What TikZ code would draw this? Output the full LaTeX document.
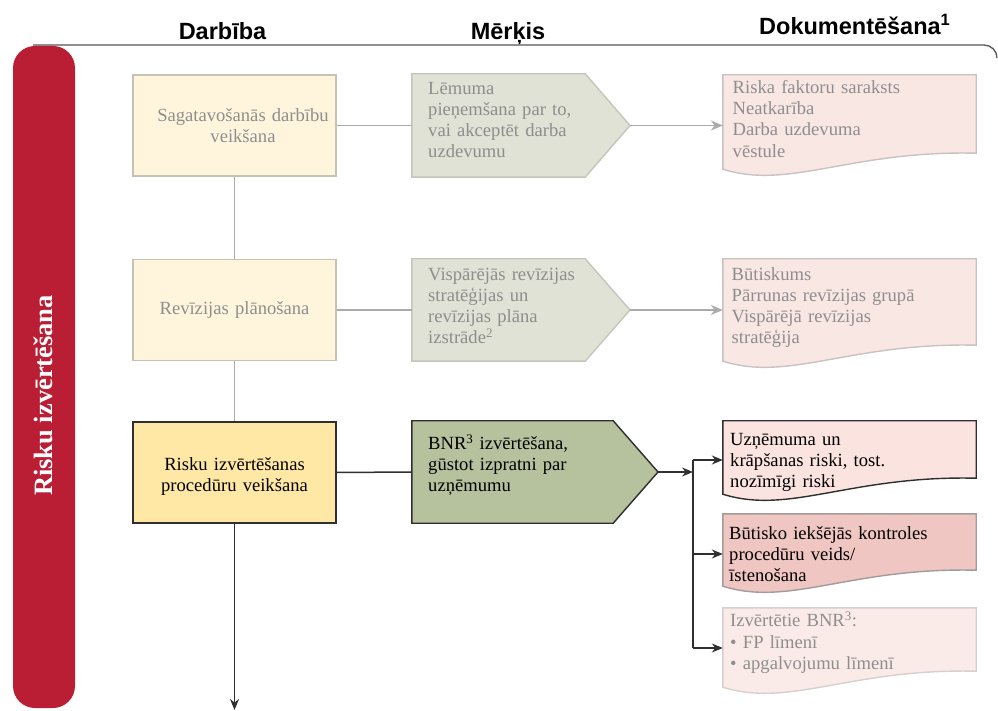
\documentclass[tikz,border=0pt]{standalone}
\usepackage{fontspec}
\setmainfont{Liberation Serif}
\newfontfamily\headsans{Liberation Sans}
\usetikzlibrary{arrows.meta,backgrounds}

\definecolor{barred}{HTML}{BA1E35}
\definecolor{actpale}{HTML}{FEF5DC}
\definecolor{actkey}{HTML}{FFE8A6}
\definecolor{actline}{HTML}{C6C2B6}
\definecolor{goalpale}{HTML}{DFE2D4}
\definecolor{goalline}{HTML}{C3C6BA}
\definecolor{goalkey}{HTML}{B6C19D}
\definecolor{docpale}{HTML}{F9E7E3}
\definecolor{docline}{HTML}{CAC2C0}
\definecolor{dockey}{HTML}{FBE4E0}
\definecolor{docstrong}{HTML}{EFC6C1}
\definecolor{docfaint}{HTML}{FBEBE8}
\definecolor{docfaintline}{HTML}{D6D0CF}
\definecolor{txtgray}{HTML}{8E8E8E}
\definecolor{lingray}{HTML}{ABABAB}
\definecolor{lindark}{HTML}{2F2F2F}
\definecolor{rulegray}{HTML}{555555}

\newcommand{\diagfont}{\fontsize{18.6}{21.2}\selectfont}
\newcommand{\headfont}{\headsans\bfseries\fontsize{23.5}{26}\selectfont}

\begin{document}
\begin{tikzpicture}[x=1pt,y=1pt,
  every node/.style={inner sep=0pt},
  stagebox/.style={draw, line width=1.4pt, minimum width=203pt, minimum height=101pt,
    align=center, text width=195pt, font=\diagfont},
  stagepale/.style={stagebox, fill=actpale, draw=actline, text=txtgray},
  stagekey/.style={stagebox, fill=actkey, draw=lindark, text=black},
  area/.style={rectangle, draw=none, fill=none},
  txt/.style={anchor=north west, align=left, text width=250pt, font=\diagfont,
    execute at begin node=\strut},
  faded/.style={text=txtgray},
  goalpaleshape/.style={fill=goalpale, draw=goalline, line width=1.4pt, line join=miter},
  goalkeyshape/.style={fill=goalkey, draw=lindark, line width=1.4pt, line join=miter},
  docpaleshape/.style={fill=docpale, draw=docline, line width=1.4pt},
  dockeyshape/.style={fill=dockey, draw=lindark, line width=1.4pt},
  docstrongshape/.style={fill=docstrong, draw=docline!80!black, line width=1.4pt},
  docfaintshape/.style={fill=docfaint, draw=docfaintline, line width=1.4pt},
  gline/.style={draw=lingray, line width=1.5pt},
  garrow/.style={gline, -{Stealth[length=12pt,width=10pt]}},
  dline/.style={draw=lindark, line width=1.5pt},
  darrow/.style={dline, -{Stealth[length=11pt,width=9pt]}},
  heading/.style={font=\headfont, text=black},
]
\useasboundingbox (0,0) rectangle (998,710);

% column headings and the rule beneath them
\node[heading, anchor=base] (hact) at (222.5,670.5) {Darbība};
\node[heading, anchor=base] (hgoal) at (508,670.5) {Mērķis};
\node[heading, anchor=base west] (hdoc) at (759,675) {Dokumentēšana\textsuperscript{1}};
\draw[rulegray, line width=1.3pt] (33,665) -- (984,665) arc[start angle=90, end angle=0, radius=13];

% phase bar
\node[fill=barred, rounded corners=22pt, minimum width=62pt, minimum height=662pt] (bar) at (44,333) {};
\node[rotate=90, text=white, font=\bfseries\fontsize{26.5}{30}\selectfont] (barlabel) at (43,314.5) {Risku izvērtēšana};

% activities
\node[stagepale] (b1) at (234.5,584.5) {\hspace*{17pt}Sagatavošanās darbību\\\hspace*{17pt}veikšana};
\node[stagepale] (b2) at (234.5,400) {Revīzijas plānošana};
\node[stagekey] (b3) at (234.5,237.5) {\rule{0pt}{20.7pt}Risku izvērtēšanas\\procedūru veikšana};

% goals: body areas and pointer tips
\node[area, minimum width=173pt, minimum height=103pt] (g1) at (498.5,584.5) {};
\node[area, minimum width=173pt, minimum height=102pt] (g2) at (498.5,400) {};
\node[area, minimum width=201pt, minimum height=102pt] (g3) at (512.5,238) {};
\coordinate (g1tip) at (630,584.5);
\coordinate (g2tip) at (630,400);
\coordinate (g3tip) at (658,238);

% documents: upper rectangular areas
\node[area, minimum width=253pt, minimum height=78pt] (d1) at (849.5,596) {};
\node[area, minimum width=253pt, minimum height=86pt] (d2) at (849.5,408) {};
\node[area, minimum width=253pt, minimum height=57pt] (d3) at (849.5,260.5) {};
\node[area, minimum width=253pt, minimum height=56pt] (d4) at (849.5,168) {};
\node[area, minimum width=253pt, minimum height=63pt] (d5) at (849.5,70.5) {};

\begin{scope}[on background layer]
  \path[goalpaleshape] (g1.south west) -- (g1.north west) -- (g1.north east) -- (g1tip) -- (g1.south east) -- cycle;
  \path[goalpaleshape] (g2.south west) -- (g2.north west) -- (g2.north east) -- (g2tip) -- (g2.south east) -- cycle;
  \path[goalkeyshape] (g3.south west) -- (g3.north west) -- (g3.north east) -- (g3tip) -- (g3.south east) -- cycle;
  \foreach \d/\s in {d1/docpaleshape, d2/docpaleshape, d3/dockeyshape, d4/docstrongshape, d5/docfaintshape} {
    \path[\s] (\d.north west) -- (\d.north east) -- (\d.south east)
      .. controls +(-126,3) and +(67,-21) .. ([yshift=-16pt]\d.south west) -- cycle;
  }
\end{scope}

% goal texts
\node[txt, faded] (g1t) at (428,630.8) {Lēmuma\\pieņemšana par to,\\vai akceptēt darba\\uzdevumu};
\node[txt, faded] (g2t) at (428,444.8) {Vispārējās revīzijas\\stratēģijas un\\revīzijas plāna\\izstrāde\textsuperscript{2}};
\node[txt] (g3t) at (428,275.8) {BNR\textsuperscript{3} izvērtēšana,\\gūstot izpratni par\\uzņēmumu};

% document texts
\node[txt, faded] (d1t) at (732.5,631.5) {Riska faktoru saraksts\\Neatkarība\\Darba uzdevuma\\vēstule};
\node[txt, faded] (d2t) at (731.5,444.8) {Būtiskums\\Pārrunas revīzijas grupā\\Vispārējā revīzijas\\stratēģija};
\node[txt] (d3t) at (730,279.8) {Uzņēmuma un\\krāpšanas riski, tost.\\nozīmīgi riski};
\node[txt] (d4t) at (729,185.8) {Būtisko iekšējās kontroles\\procedūru veids/\\īstenošana};
\node[txt, faded] (d5t) at (730,98.1) {Izvērtētie BNR\textsuperscript{3}:\\• FP līmenī\\• apgalvojumu līmenī};

% flow between activities
\coordinate (exit) at (234.5,0);
\draw[gline] (b1.south) -- (b2.north);
\draw[gline] (b2.south) -- (b3.north);
\draw[darrow] (b3.south) -- (exit);

% activity -> goal -> documentation
\draw[gline] (b1.east) -- (g1.west);
\draw[garrow] (g1tip) -- (g1tip -| d1.west);
\draw[gline] (b2.east) -- (g2.west);
\draw[garrow] (g2tip) -- (g2tip -| d2.west);
\draw[dline] (b3.east) -- (g3.west);

% fork to the three documents of the risk assessment step
\coordinate (fork) at (693,238);
\coordinate (fk3) at (693,250);
\coordinate (fk4) at (693,156);
\coordinate (fk5) at (693,62);
\draw[darrow] (g3tip) -- (fork);
\draw[dline] (fk3) -- (fk5);
\draw[darrow] (fk3) -- (fk3 -| d3.west);
\draw[darrow] (fk4) -- (fk4 -| d4.west);
\draw[darrow] (fk5) -- (fk5 -| d5.west);
\end{tikzpicture}
\end{document}
